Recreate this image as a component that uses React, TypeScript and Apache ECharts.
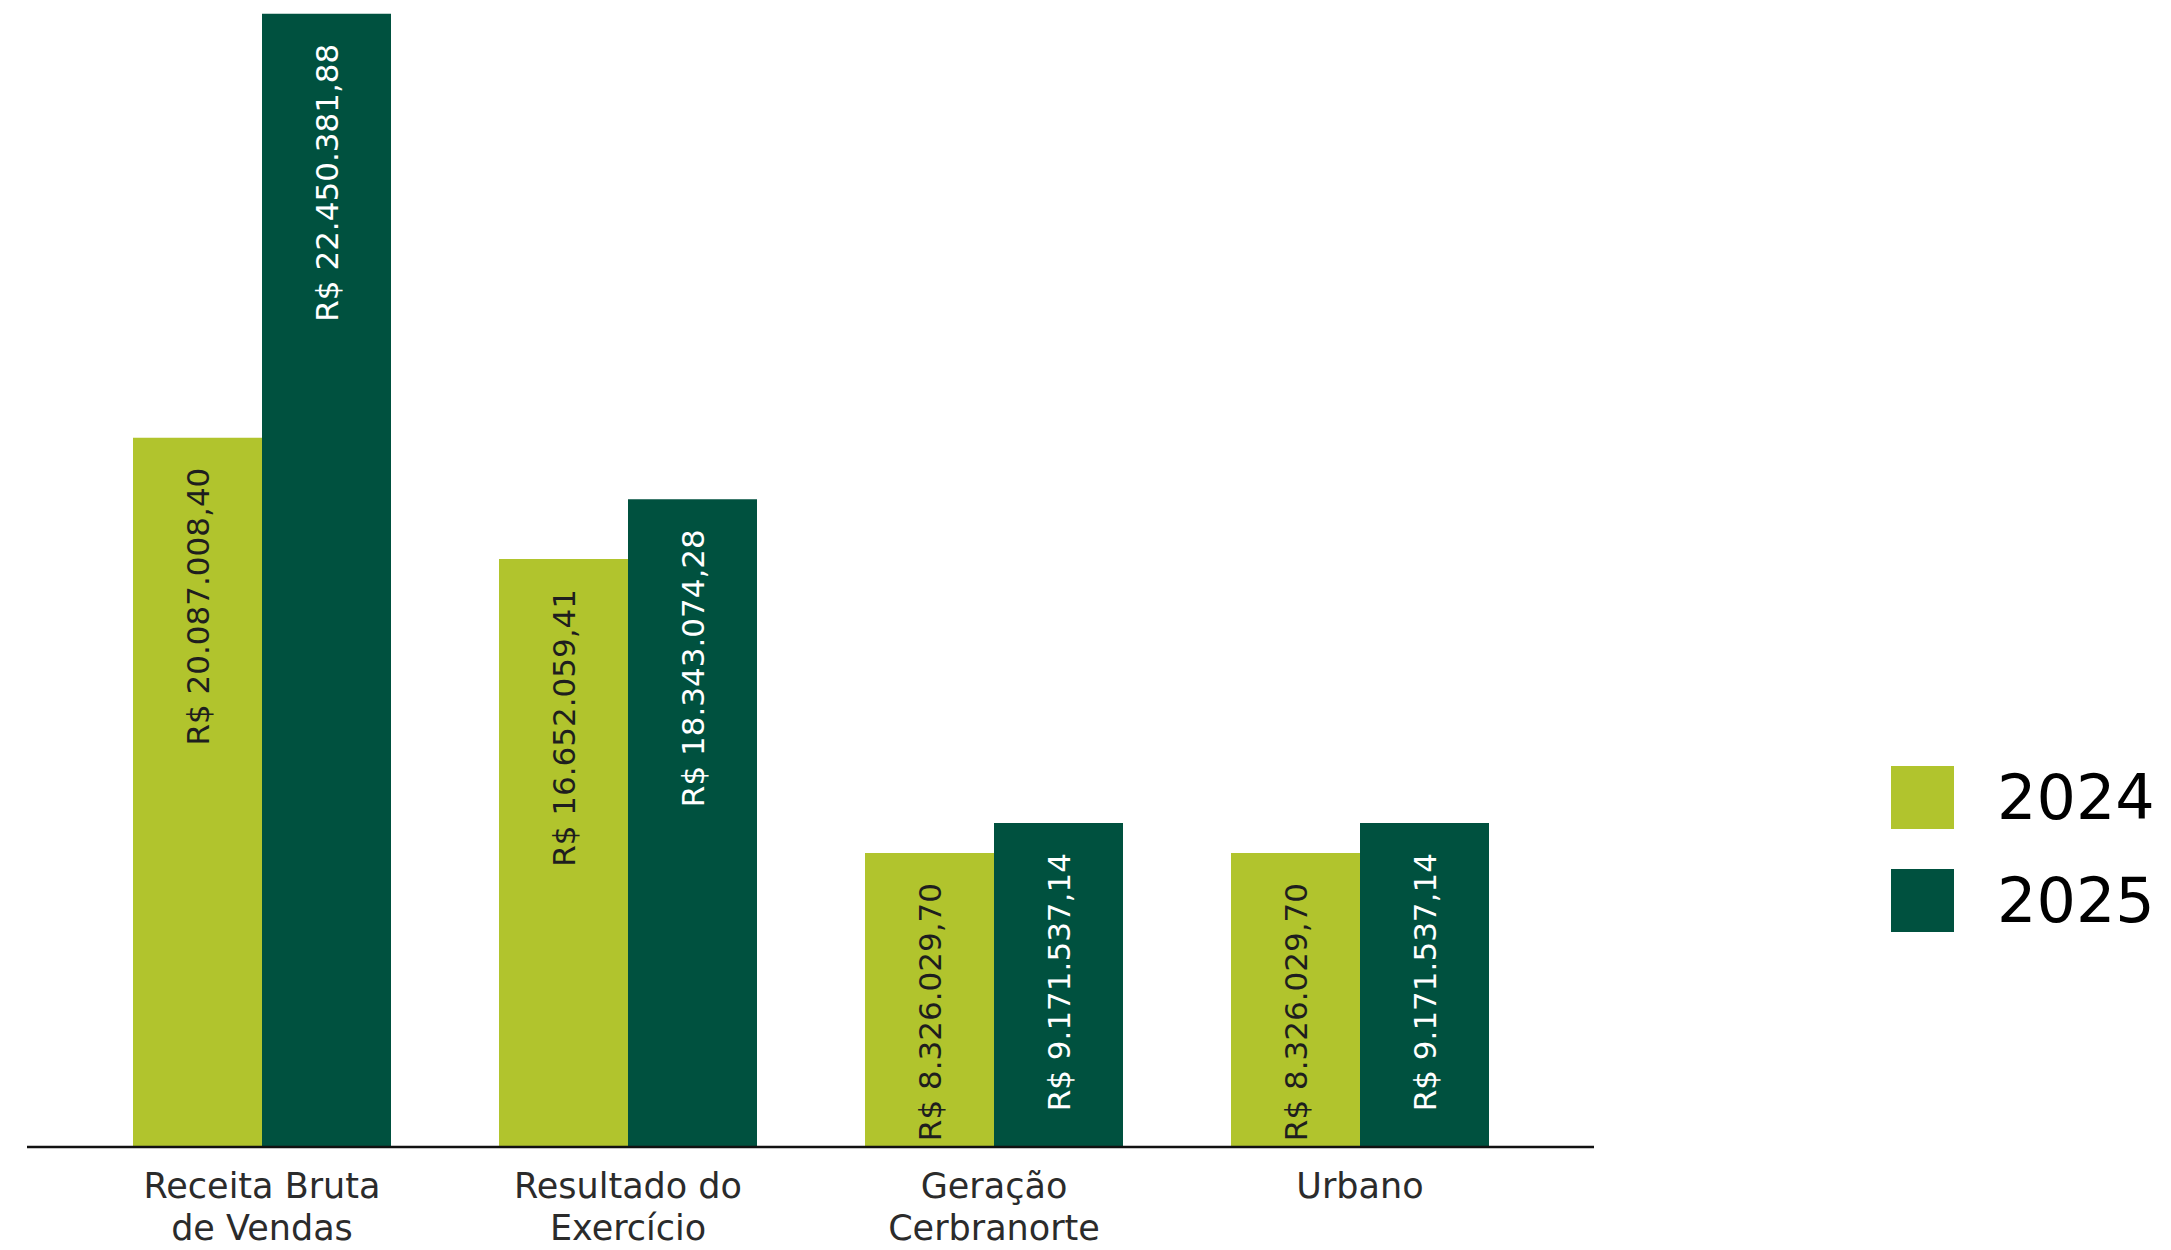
import React, { useEffect, useRef } from "react";
import * as echarts from "echarts";

const categories = [
  "Receita Bruta\nde Vendas",
  "Resultado do\nExercício",
  "Geração\nCerbranorte",
  "Urbano",
];
const seriesNames = ["2024", "2025"];
// values printed on the bars
const values2024 = [20087008.4, 16652059.41, 8326029.7, 8326029.7];
const values2025 = [22450381.88, 18343074.28, 9171537.14, 9171537.14];
// bar heights as drawn in the picture (the first 2025 bar is drawn taller than its label)
const barHeights2024 = [20087008.4, 16652059.41, 8326029.7, 8326029.7];
const barHeights2025 = [32090000, 18343074.28, 9171537.14, 9171537.14];

const FONT = "'DejaVu Sans', 'Open Sans', sans-serif";
const LIGHT = "#b1c42d";
const DARK = "#00513f";

function brl(v: number): string {
  const [i, d] = v.toFixed(2).split(".");
  return `R$ ${i.replace(/\B(?=(\d{3})+(?!\d))/g, ".")},${d}`;
}

export default function App() {
  const ref = useRef<HTMLDivElement>(null);
  useEffect(() => {
    if (!ref.current) return;
    const chart = echarts.init(ref.current, undefined, { renderer: "svg" });
    const labelBase = {
      show: true,
      position: "insideTop",
      rotate: 90,
      align: "right",
      verticalAlign: "middle",
      distance: 30,
      fontSize: 31,
      fontFamily: FONT,
    };
    chart.setOption({
      animation: false,
      backgroundColor: "#ffffff",
      grid: {
        left: 79,
        width: 1464,
        top: 0,
        bottom: 103,
        containLabel: false,
        outerBoundsMode: "none",
      },
      xAxis: {
        type: "category",
        data: categories,
        axisLine: { show: false },
        axisTick: { show: false },
        axisLabel: {
          interval: 0,
          margin: 18,
          fontSize: 35,
          lineHeight: 42,
          color: "#2b2b2b",
          fontFamily: FONT,
        },
      },
      yAxis: {
        type: "value",
        min: 0,
        max: 32480000,
        show: false,
        splitLine: { show: false },
      },
      legend: {
        orient: "vertical",
        left: 1891,
        top: 766,
        padding: 0,
        itemWidth: 63,
        itemHeight: 63,
        itemGap: 40,
        icon: "rect",
        selectedMode: false,
        data: seriesNames,
        textStyle: {
          fontSize: 62,
          lineHeight: 63,
          color: "#000",
          fontFamily: FONT,
          padding: [0, 0, 0, 38],
        },
      },
      graphic: [
        {
          type: "line",
          z: 10,
          shape: { x1: 27, y1: 1147, x2: 1594, y2: 1147 },
          style: { stroke: "#111", lineWidth: 2.5 },
        },
      ],
      series: [
        {
          name: seriesNames[0],
          type: "bar",
          data: barHeights2024,
          barWidth: 129,
          barGap: "0%",
          itemStyle: { color: LIGHT },
          label: {
            ...labelBase,
            color: "#1e1e1e",
            formatter: (p: any) => brl(values2024[p.dataIndex]),
          },
        },
        {
          name: seriesNames[1],
          type: "bar",
          data: barHeights2025,
          barWidth: 129,
          barGap: "0%",
          itemStyle: { color: DARK },
          label: {
            ...labelBase,
            color: "#ffffff",
            formatter: (p: any) => brl(values2025[p.dataIndex]),
          },
        },
      ],
    });
    return () => chart.dispose();
  }, []);
  return (
    <div
      ref={ref}
      style={{ position: "fixed", left: 0, top: 0, width: 2171, height: 1250 }}
    />
  );
}
